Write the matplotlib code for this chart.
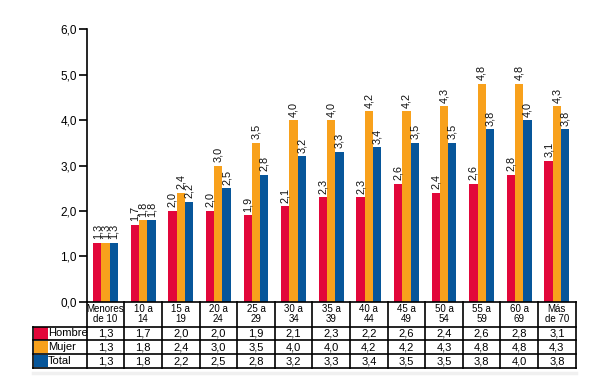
import matplotlib
matplotlib.use("Agg")
import matplotlib.pyplot as plt
from matplotlib.patches import Rectangle

plt.rcParams['font.family'] = ['Liberation Sans', 'DejaVu Sans']

categorias = ["Menores\nde 10", "10 a\n14", "15 a\n19", "20 a\n24", "25 a\n29", "30 a\n34",
              "35 a\n39", "40 a\n44", "45 a\n49", "50 a\n54", "55 a\n59", "60 a\n69", "Más\nde 70"]
hombre = [1.3, 1.7, 2.0, 2.0, 1.9, 2.1, 2.3, 2.3, 2.6, 2.4, 2.6, 2.8, 3.1]
mujer = [1.3, 1.8, 2.4, 3.0, 3.5, 4.0, 4.0, 4.2, 4.2, 4.3, 4.8, 4.8, 4.3]
total = [1.3, 1.8, 2.2, 2.5, 2.8, 3.2, 3.3, 3.4, 3.5, 3.5, 3.8, 4.0, 3.8]
hombre_tabla = [1.3, 1.7, 2.0, 2.0, 1.9, 2.1, 2.3, 2.2, 2.6, 2.4, 2.6, 2.8, 3.1]
series = ["Hombre", "Mujer", "Total"]
colores = ["#E2073A", "#F8A11C", "#07569A"]
yticks = [0, 1, 2, 3, 4, 5, 6]

def fmt(v):
    return f"{v:.1f}".replace(".", ",")

W, H = 600, 391
fig = plt.figure(figsize=(6, 3.91), dpi=100)

ax_l, ax_r = 86.7, 575.7
ax_t, ax_b = 29.3, 301.7
ax = fig.add_axes([ax_l / W, 1 - ax_b / H, (ax_r - ax_l) / W, (ax_b - ax_t) / H])
n = len(categorias)
bw = 0.22
vals = [hombre, mujer, total]
for k, (serie, col) in enumerate(zip(vals, colores)):
    xs = [i + (k - 1) * bw for i in range(n)]
    ax.bar(xs, serie, width=bw, color=col, edgecolor='none')
    for x, v in zip(xs, serie):
        ax.annotate(fmt(v), (x, v), xytext=(0, 2.5), textcoords='offset points',
                    rotation=90, ha='center', va='bottom', fontsize=7.8, color='#111111')
ax.set_xlim(-0.5, n - 0.5)
ax.set_ylim(0, 6)
ax.set_yticks(yticks)
ax.set_yticklabels([fmt(t) for t in yticks], fontsize=8.5)
ax.set_xticks([])
for s in ['top', 'right']:
    ax.spines[s].set_visible(False)
for s in ['left', 'bottom']:
    ax.spines[s].set_linewidth(1.2)
ax.tick_params(axis='y', length=6, width=1.2, pad=1)

# table
tb_t, tb_b = 301.7, 368.0
tb_l = 33.0
colw = (ax_r - ax_l) / n
lab_w = (ax_l - tb_l) / colw
tax = fig.add_axes([tb_l / W, 1 - tb_b / H, (ax_r - tb_l) / W, (tb_b - tb_t) / H])
row_h = 13.8
hdr_h = (tb_b - tb_t - 3 * row_h) / row_h
ytop = 3 + hdr_h
x0 = -0.5 - lab_w
tax.set_xlim(x0, n - 0.5)
tax.set_ylim(0, ytop)
tax.axis('off')
lw = 1.2
for y in [0, 1, 2, 3]:
    tax.plot([x0, n - 0.5], [y, y], color='black', lw=lw, solid_capstyle='projecting', clip_on=False)
tax.plot([x0, x0], [0, 3], color='black', lw=lw, clip_on=False)
for i in range(n + 1):
    tax.plot([i - 0.5, i - 0.5], [0, ytop], color='black', lw=lw, clip_on=False)
for i, c in enumerate(categorias):
    tax.text(i, 3 + hdr_h / 2, c, ha='center', va='center', fontsize=7.0, linespacing=0.92)
tabla = [hombre_tabla, mujer, total]
for r, (nombre, col, fila) in enumerate(zip(series, colores, tabla)):
    yb = 2 - r
    tax.add_patch(Rectangle((x0 + 0.03, yb + 0.06), 0.36, 0.88, color=col, lw=0))
    tax.text(x0 + 0.40, yb + 0.5, nombre, ha='left', va='center', fontsize=8)
    for i, v in enumerate(fila):
        tax.text(i, yb + 0.5, fmt(v), ha='center', va='center', fontsize=8)

# faint shadow line under the table
fig.add_artist(plt.Line2D([tb_l / W, ax_r / W], [1 - 373 / H, 1 - 373 / H],
                          color='#F0F0F0', lw=2.5))

fig.savefig("out.png", dpi=100)
